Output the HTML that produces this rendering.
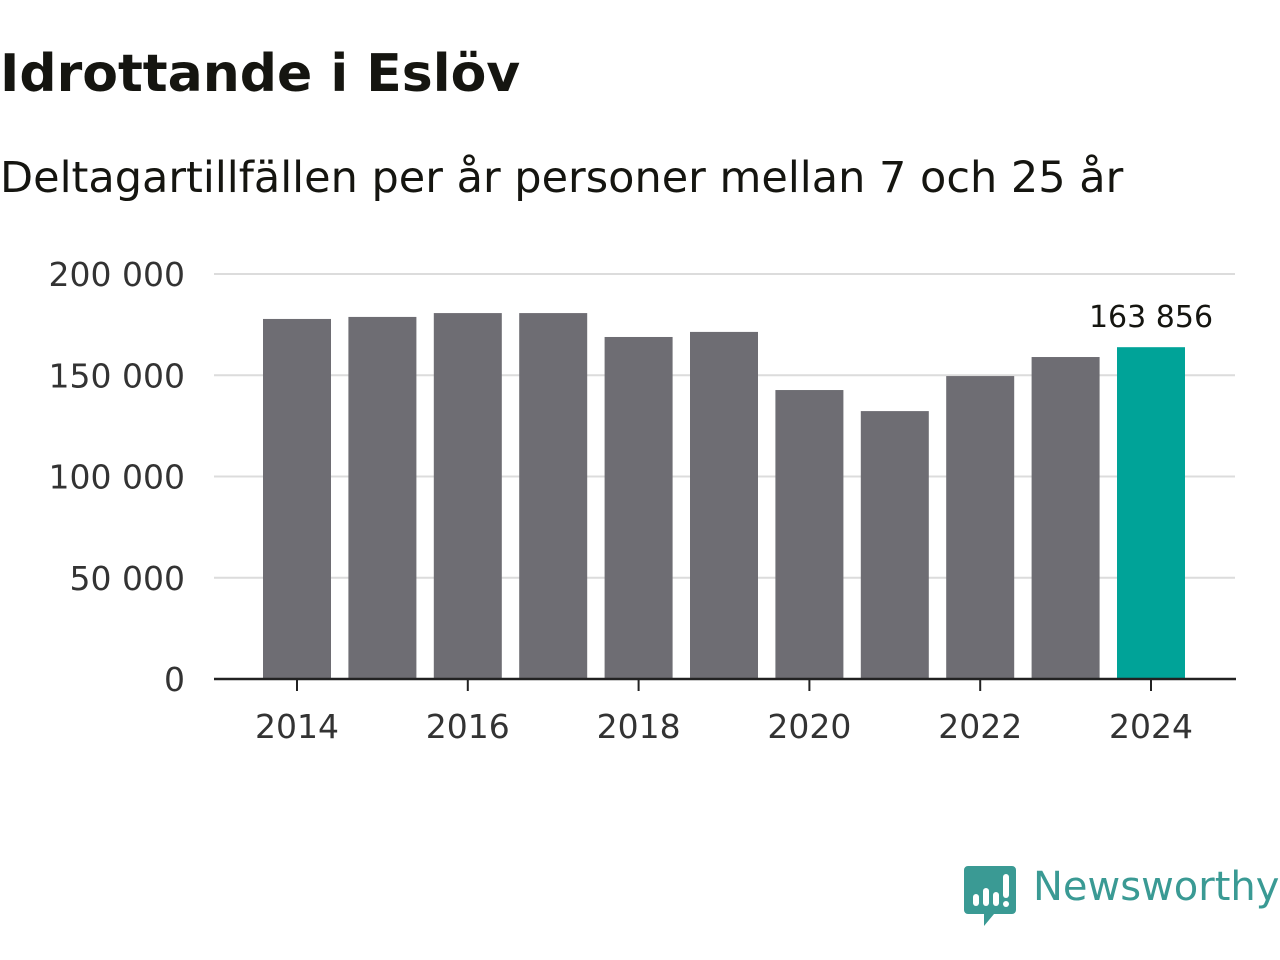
<!DOCTYPE html>
<html><head><meta charset="utf-8"><style>
body{margin:0;width:1280px;height:960px;background:#fff;overflow:hidden;font-family:"DejaVu Sans","Liberation Sans",sans-serif;}
.t{position:absolute;left:0;top:44px;font-size:52px;font-weight:bold;color:#151510;margin:0}
.s{position:absolute;left:0;top:153px;font-size:43px;color:#151510}
</style></head><body>
<h1 class="t">Idrottande i Eslöv</h1>
<div class="s">Deltagartillfällen per år personer mellan 7 och 25 år</div>
<svg id="c" width="1280" height="960" style="position:absolute;left:0;top:0"></svg>
<svg style="position:absolute;left:964px;top:866px" width="52" height="60">
<path d="M4 0h44a4 4 0 0 1 4 4v40a4 4 0 0 1-4 4H30l-10 12v-12H4a4 4 0 0 1-4-4V4a4 4 0 0 1 4-4z" fill="#3a9a94"/>
<rect x="9" y="28" width="6" height="12" rx="3" fill="#fff"/><rect x="19" y="22" width="6" height="18" rx="3" fill="#fff"/><rect x="29" y="26" width="6" height="14" rx="3" fill="#fff"/><rect x="39" y="8" width="6" height="24" rx="3" fill="#fff"/><circle cx="42" cy="38" r="3" fill="#fff"/>
</svg>
<div style="position:absolute;left:1033px;top:864px;font-size:40px;color:#3a9a94;font-family:'DejaVu Sans',sans-serif">Newsworthy</div>
<script>
const years=[2014,2015,2016,2017,2018,2019,2020,2021,2022,2023,2024];
const values=[177800,178800,180700,180700,168900,171400,142700,132300,149600,159000,163856];
const yTicks=[0,50000,100000,150000,200000];
const ns="http://www.w3.org/2000/svg",svg=document.getElementById('c');
const y0=679,ppu=405/200000,x0=297,step=85.4,bw=68;
const Y=v=>y0-v*ppu,X=i=>x0+i*step;
const fmt=v=>v.toLocaleString('en-US').replace(/,/g,' ');
function el(t,a,p){const e=document.createElementNS(ns,t);for(const k in a)e.setAttribute(k,a[k]);(p||svg).appendChild(e);return e;}
yTicks.forEach(v=>{
 if(v>0){const g=el('line',{x1:214,x2:1235,y1:Y(v),y2:Y(v),stroke:'#dcdcdc','stroke-width':2});
 
 }
 const t=el('text',{x:185,y:Y(v)+12,'text-anchor':'end','font-size':33,fill:'#333'});t.textContent=fmt(v);
 
 
});
values.forEach((v,i)=>{
 const last=i===values.length-1;
 const r=el('rect',{x:X(i)-bw/2,y:Y(v),width:bw,height:v*ppu,fill:last?'#00a398':'#6e6d73'});
 
 
 if(last){const t=el('text',{x:X(i),y:Y(v)-20,'text-anchor':'middle','font-size':30,fill:'#151510'});t.textContent=fmt(v);
 
 }
 if(years[i]%2===0){
  const tk=el('line',{x1:X(i),x2:X(i),y1:y0,y2:y0+12,stroke:'#222','stroke-width':2});
  
  
  const t=el('text',{x:X(i),y:738,'text-anchor':'middle','font-size':33,fill:'#333'});t.textContent=years[i];
  
  
 }
});
const ax=el('line',{x1:214,x2:1236,y1:y0,y2:y0,stroke:'#222','stroke-width':2.5});


</script>
</body></html>
